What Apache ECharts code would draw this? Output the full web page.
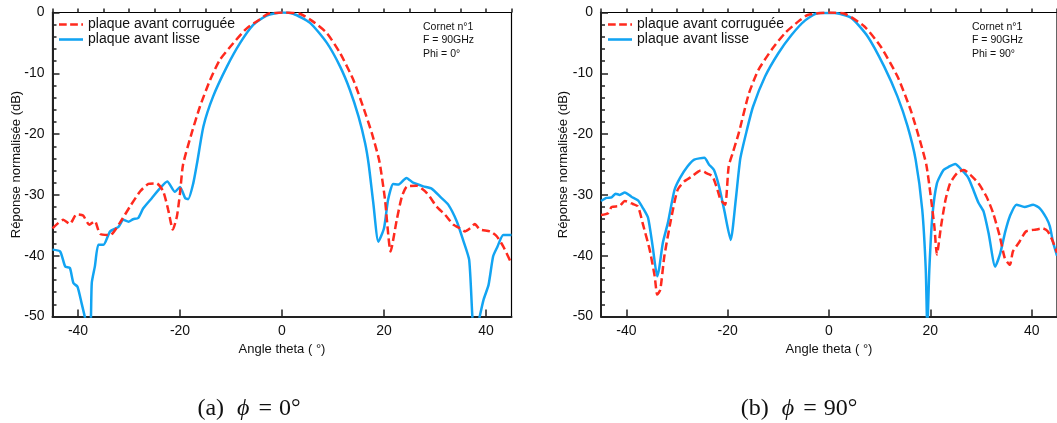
<!DOCTYPE html>
<html>
<head>
<meta charset="utf-8">
<script src="https://cdn.jsdelivr.net/npm/echarts@6/dist/echarts.min.js"></script>
<style>
  html, body { margin: 0; padding: 0; background: #fff; }
  #chart { width: 1057px; height: 423px; }
</style>
</head>
<body>
<div id="chart"></div>
<script>
// phi = 0 : [theta, dB]
const corrugPhi0 = [
  [-45, -35.5], [-42.9, -34.1], [-41.6, -34.8], [-40.3, -33.2], [-39.0, -33.4], [-37.8, -34.9],
  [-36.7, -34.3], [-35.7, -36.4], [-33.7, -36.6], [-31.8, -34.6], [-29.8, -31.9], [-27.8, -29.4],
  [-26.2, -28.2], [-24.6, -28.1], [-23.3, -29.4], [-22.3, -32.5], [-21.4, -35.7], [-20.6, -33.5],
  [-20.0, -29.7], [-19.4, -25.0], [-17.7, -19.8], [-16.1, -15.5], [-14.1, -11.1], [-12.2, -7.8],
  [-9.5, -5.0], [-6.9, -2.6], [-4.3, -1.1], [-2.7, -0.2], [0.5, 0], [3.5, -0.2], [6.1, -1.5],
  [8.8, -3.4], [11.4, -6.7], [14.0, -11.1], [15.9, -15.5], [17.6, -19.8], [19.1, -24.5],
  [20.2, -30.8], [21.3, -39.3], [22.5, -34.1], [23.5, -30.3], [24.5, -28.6], [26.4, -28.5],
  [28.4, -29.7], [30.3, -31.9], [32.0, -33.3], [33.6, -34.9], [34.9, -35.5], [35.9, -36.0],
  [36.9, -35.5], [37.8, -34.8], [38.8, -35.7], [40.8, -36.0], [42.1, -36.8], [43.4, -38.5], [45, -41.3]
];
const lissePhi0 = [
  [-45, -39.0], [-43.5, -39.3], [-42.5, -41.8], [-41.6, -42.0], [-40.9, -44.5], [-40.1, -45.1],
  [-39.3, -47.8], [-38.4, -51], [-37.9, -53], [-37.5, -51], [-37.3, -44.5], [-36.7, -41.8],
  [-36.0, -38.2], [-35.0, -38.2], [-33.7, -36.0], [-32.1, -35.3], [-31.1, -34.1], [-30.1, -34.4],
  [-29.2, -34.0], [-28.2, -33.8], [-27.2, -32.2], [-25.5, -30.5], [-23.9, -28.9], [-22.5, -27.8],
  [-21.0, -29.5], [-20.0, -28.7], [-19.0, -30.5], [-18.4, -30.7], [-17.4, -28.1], [-16.6, -24.5],
  [-15.4, -18.7], [-13.5, -13.8], [-10.8, -8.9], [-8.2, -5.0], [-5.6, -2.0], [-3.0, -0.5],
  [0, 0], [2.2, -0.2], [5.5, -1.7], [8.8, -5.0], [11.4, -8.9], [13.3, -12.7], [15.0, -17.1],
  [16.3, -21.5], [17.0, -25.0], [17.9, -31.3], [18.9, -37.7], [20.0, -35.5], [20.8, -30.8],
  [21.8, -28.2], [22.8, -28.3], [23.8, -27.6], [24.4, -27.2], [25.7, -28.0], [27.7, -28.6],
  [29.4, -29.0], [31.0, -30.3], [32.6, -31.6], [34.3, -34.4], [35.5, -37.4], [36.7, -40.7],
  [37.4, -51], [37.9, -53], [38.5, -51], [39.5, -47.3], [40.5, -44.8], [41.4, -40.1],
  [42.2, -38.6], [43.4, -36.6], [45, -36.6]
];

// phi = 90
const corrugPhi90 = [
  [-45, -33.3], [-43.6, -33.0], [-42.9, -32.0], [-41.3, -31.8], [-40.3, -31.0], [-38.7, -31.5],
  [-37.7, -31.9], [-36.7, -34.9], [-35.4, -39.0], [-34.4, -43.4], [-33.9, -46.4], [-33.3, -45.6],
  [-32.5, -40.1], [-31.2, -34.1], [-29.9, -29.2], [-28.6, -27.8], [-27.3, -27.1], [-25.3, -26.0],
  [-24.0, -26.5], [-23.0, -26.9], [-22.0, -29.2], [-21.4, -30.8], [-20.5, -31.6], [-19.8, -25.3],
  [-19.0, -23.1], [-17.8, -19.8], [-15.8, -13.3], [-13.9, -9.4], [-11.3, -6.1], [-8.7, -3.4],
  [-6.1, -1.5], [-4.2, -0.4], [-0.2, 0], [3.1, -0.2], [7.0, -2.3], [10.2, -5.6], [13.5, -10.5],
  [16.1, -16.0], [18.1, -21.5], [19.2, -25.0], [20.0, -29.7], [20.8, -35.2], [21.3, -39.8],
  [22.1, -35.2], [23.0, -30.8], [23.9, -28.1], [25.3, -26.4], [26.6, -25.9], [27.9, -26.7],
  [29.5, -28.1], [31.1, -30.3], [32.4, -33.0], [33.7, -36.8], [34.7, -40.4], [35.7, -41.5],
  [36.3, -39.3], [37.6, -37.7], [38.9, -36.0], [40.9, -35.7], [42.2, -35.5], [43.2, -36.0],
  [44.2, -37.7], [45, -39.5]
];
const lissePhi90 = [
  [-45, -31.0], [-43.9, -30.5], [-42.9, -30.4], [-42.1, -29.8], [-41.3, -30.0], [-40.3, -29.6],
  [-39.0, -30.3], [-37.7, -30.9], [-36.7, -32.2], [-35.7, -33.8], [-34.8, -38.5], [-33.9, -43.4],
  [-33.5, -42.0], [-32.8, -37.9], [-31.8, -34.6], [-30.5, -29.2], [-29.4, -27.2], [-27.9, -25.3],
  [-26.6, -24.2], [-24.6, -23.9], [-23.7, -25.0], [-22.7, -25.9], [-21.7, -28.6], [-20.7, -32.4],
  [-19.4, -37.4], [-18.4, -30.8], [-17.5, -24.0], [-16.2, -19.3], [-15.0, -15.5], [-12.6, -10.5],
  [-10.0, -6.7], [-7.4, -3.7], [-4.7, -1.3], [-2.1, -0.1], [1.1, -0.1], [4.4, -0.9], [7.6, -3.9],
  [10.9, -8.9], [13.5, -13.8], [15.5, -18.7], [17.1, -24.2], [18.4, -32.4], [19.1, -42.3],
  [19.4, -52], [19.8, -42.3], [20.4, -33.5], [21.3, -28.1], [22.6, -25.9], [23.6, -25.4],
  [24.9, -24.9], [26.2, -25.9], [27.5, -27.2], [28.5, -29.2], [29.5, -31.3], [30.5, -32.7],
  [31.5, -36.3], [32.8, -41.8], [33.8, -39.6], [34.8, -36.0], [35.7, -33.5], [37.0, -31.6],
  [38.6, -32.0], [40.3, -31.6], [41.6, -32.2], [42.9, -33.8], [43.6, -35.2], [44.2, -37.7], [45, -40.0]
];

const majorTicks = [-40, -20, 0, 20, 40];
const seriesNames = ['plaque avant corruguée', 'plaque avant lisse'];
const notes = [['Cornet n°1', 'F = 90GHz', 'Phi = 0°'], ['Cornet n°1', 'F = 90GHz', 'Phi = 90°']];
const captions = [['(a)', '0°'], ['(b)', '90°']];

const RED = '#ff2a1e';
const BLUE = '#12a4f2';
const FONT = 'Liberation Sans';

const grids = [
  { left: 52.5, top: 12.5, width: 459, height: 304, show: true, borderColor: '#000', borderWidth: 1.2 },
  { left: 601, top: 12.5, width: 460, height: 304, show: true, borderColor: '#000', borderWidth: 1.2 }
];

function xAxes(g) {
  return [{
    gridIndex: g, type: 'value', min: -45, max: 45,
    name: 'Angle theta ( °)', nameLocation: 'middle', nameGap: 26,
    nameTextStyle: { fontFamily: FONT, fontSize: 13, color: '#111' },
    axisLine: { show: true, onZero: false, lineStyle: { color: '#222', width: 2 } },
    axisTick: { show: true, inside: true, length: 7, customValues: majorTicks, lineStyle: { color: '#222', width: 1.5 } },
    axisLabel: { customValues: majorTicks, margin: 8, fontFamily: FONT, fontSize: 14, color: '#111' },
    splitLine: { show: false }
  }, {
    gridIndex: g, type: 'value', min: -45, max: 45, interval: 5, position: 'bottom',
    axisLine: { show: false },
    axisTick: { show: true, inside: true, length: 4, lineStyle: { color: '#222', width: 1.5 } },
    axisLabel: { show: false },
    splitLine: { show: false }
  }];
}

function yAxis(g, gap) {
  return {
    gridIndex: g, type: 'value', min: -50, max: 0, interval: 10,
    name: 'Réponse normalisée (dB)', nameLocation: 'middle', nameGap: gap, nameMoveOverlap: false,
    nameTextStyle: { fontFamily: FONT, fontSize: 13, color: '#111' },
    axisLine: { show: true, onZero: false, lineStyle: { color: '#222', width: 2 } },
    axisTick: { show: true, inside: true, length: 7, lineStyle: { color: '#222', width: 1.5 } },
    minorTick: { show: true, splitNumber: 5, length: 4, lineStyle: { color: '#222', width: 1.5 } },
    axisLabel: { margin: 8, fontFamily: FONT, fontSize: 14, color: '#111' },
    splitLine: { show: false }
  };
}

function lineSeries(name, data, g, dashed) {
  return {
    name: name, type: 'line', data: data,
    xAxisIndex: g * 2, yAxisIndex: g,
    symbol: 'none', smooth: 0.2, clip: true,
    lineStyle: dashed
      ? { color: RED, width: 2.5, type: [8, 4] }
      : { color: BLUE, width: 2.5 },
    itemStyle: { color: dashed ? RED : BLUE },
    z: dashed ? 3 : 2
  };
}

// legend icons: dashed bar for corruguée, plain bar for lisse
const dashIcon = 'path://M0,0h9v3h-9zM13,0h9v3h-9zM26,0h2v3h-2z';
const solidIcon = 'path://M0,0h28v3h-28z';

function legend(left) {
  return {
    orient: 'vertical', left: left, top: 17, padding: 0,
    itemWidth: 24, itemHeight: 3, itemGap: 0,
    data: [
      { name: seriesNames[0], icon: dashIcon, itemStyle: { color: RED } },
      { name: seriesNames[1], icon: solidIcon, itemStyle: { color: BLUE } }
    ],
    textStyle: { fontFamily: FONT, fontSize: 14, color: '#111', lineHeight: 15 },
    selectedMode: false
  };
}

function noteText(x, lines) {
  return {
    type: 'text', left: x, top: 20,
    style: { text: lines.join('\n'), fontFamily: FONT, fontSize: 10.5, lineHeight: 13.5, fill: '#111' }
  };
}

function captionText(cx, cap) {
  const base = { fontFamily: 'Liberation Serif', fontSize: 24, fill: '#111' };
  return {
    type: 'text', x: cx, y: 409,
    style: {
      text: '{a|' + cap[0] + '}{g1| }{i|ϕ}{g2| }{a|=}{g3| }{a|' + cap[1] + '}',
      align: 'center', verticalAlign: 'middle',
      rich: {
        a: base,
        i: Object.assign({}, base, { fontStyle: 'italic' }),
        g1: Object.assign({}, base, { width: 13 }),
        g2: Object.assign({}, base, { width: 9 }),
        g3: Object.assign({}, base, { width: 7 })
      }
    }
  };
}

const chart = echarts.init(document.getElementById('chart'), null, { renderer: 'canvas' });
chart.setOption({
  backgroundColor: '#fff',
  animation: false,
  grid: grids,
  xAxis: xAxes(0).concat(xAxes(1)),
  yAxis: [yAxis(0, 30), yAxis(1, 31)],
  legend: [legend(59), legend(608)],
  series: [
    lineSeries(seriesNames[1], lissePhi0, 0, false),
    lineSeries(seriesNames[0], corrugPhi0, 0, true),
    lineSeries(seriesNames[1], lissePhi90, 1, false),
    lineSeries(seriesNames[0], corrugPhi90, 1, true)
  ],
  graphic: [
    noteText(423, notes[0]),
    noteText(972, notes[1]),
    captionText(249, captions[0]),
    captionText(799, captions[1])
  ]
});
</script>
</body>
</html>
